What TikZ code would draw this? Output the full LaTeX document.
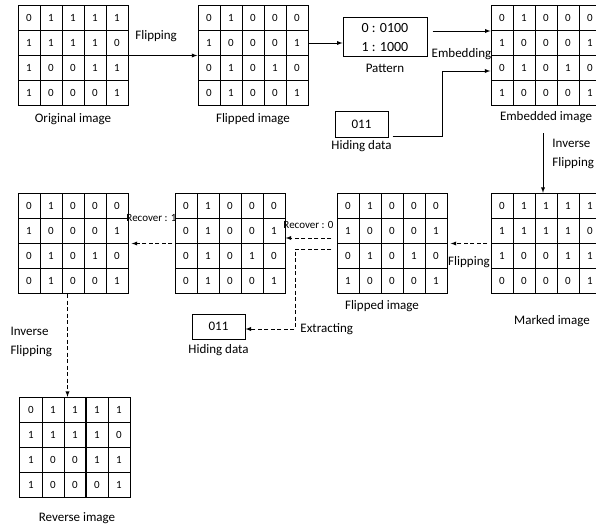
\documentclass[tikz,border=0pt]{standalone}
\usepackage{fontspec}
\setmainfont{Carlito}
\usetikzlibrary{matrix,positioning,calc}
\begin{document}
\begin{tikzpicture}[x=1pt,y=-1pt,
  grille/.style={matrix of nodes,inner sep=0pt,column sep=-1pt,row sep=-1pt,
    nodes={draw,line width=1pt,minimum width=22pt,minimum height=25pt,inner sep=0pt,text height=7pt,text depth=0pt,font=\fontsize{11}{11}\selectfont}},
  boite/.style={draw,line width=1pt,minimum width=53pt,minimum height=26pt,inner sep=0pt,font=\fontsize{13}{15}\selectfont},
  legende/.style={inner sep=1pt,font=\fontsize{13}{15}\selectfont},
  petite/.style={inner sep=1pt,font=\fontsize{11}{13}\selectfont},
  fleche/.style={-latex,line width=0.9pt},
  tirets/.style={fleche,dash pattern=on 4pt off 2.5pt}]
\useasboundingbox (0,0) rectangle (596,524);
% Mise en place : les images
\matrix (orig) at (73,55.5) [grille] {0&1&1&1&1\\1&1&1&1&0\\1&0&0&1&1\\1&0&0&0&1\\};
\matrix (retour) at (253,55.5) [grille] {0&1&0&0&0\\1&0&0&0&1\\0&1&0&1&0\\0&1&0&0&1\\};
\matrix (insere) at (546,55.5) [grille] {0&1&0&0&0\\1&0&0&0&1\\0&1&0&1&0\\1&0&0&0&1\\};
\matrix (marque) at (546,243.5) [grille] {0&1&1&1&1\\1&1&1&1&0\\1&0&0&1&1\\0&0&0&0&1\\};
\matrix (retourb) at (392,243.5) [grille] {0&1&0&0&0\\1&0&0&0&1\\0&1&0&1&0\\1&0&0&0&1\\};
\matrix (recup) at (230,243.5) [grille] {0&1&0&0&0\\0&1&0&0&1\\0&1&0&1&0\\0&1&0&0&1\\};
\matrix (gauche) at (73,243.5) [grille] {0&1&0&0&0\\1&0&0&0&1\\0&1&0&1&0\\0&1&0&0&1\\};
\matrix (inverse) at (75,447.5) [grille] {0&1&1&1&1\\1&1&1&1&0\\1&0&0&1&1\\1&0&0&0&1\\};
\node[boite,minimum width=84pt,minimum height=39pt,align=center,font=\fontsize{14}{19}\selectfont] (motif) at (385,37.5) {0 : 0100\\1 : 1000};
\node[boite] (cache) at (361.5,124) {011};
\node[boite,minimum height=25pt] (cacheb) at (218.5,326.5) {011};
% Legendes
\node[legende,below=6pt of orig] (lorig) {Original image};
\node[legende,below=6pt of retour] (lretour) {Flipped image};
\node[legende,below=4pt of insere] (linsere) {Embedded image};
\node[legende,below=5.5pt of motif] (lmotif) {Pattern};
\node[legende,below=1.5pt of cache] (lcache) {Hiding data};
\node[legende,below=20pt of marque,xshift=6pt] (lmarque) {Marked image};
\node[legende,below=5pt of retourb,xshift=-10pt] (lretourb) {Flipped image};
\node[legende,below=3.5pt of cacheb] (lcacheb) {Hiding data};
\node[legende,below=13pt of inverse,xshift=2pt] (linverse) {Reverse image};
% Insertion
\draw[fleche](orig.east)--(retour.west)node[legende,pos=0.4,above=12pt](lflip){Flipping};
\draw[fleche](retour-2-5.east)--(retour-2-5.east-|motif.west);
\coordinate (demb) at ($(motif.east)+(5,0)$);
\draw[fleche](demb|-insere-1-1.south west)--(insere-1-1.south west)node[legende,midway,below=16pt](lemb){Embedding};
\coordinate (hdep) at ($(cache.south east)+(4,-1)$);
\coordinate (coude) at (442,71);
\draw[fleche](hdep)-|(coude)--(coude-|insere.west);
\coordinate (dinv) at (543,133);
\draw[fleche](dinv)--(dinv|-marque.north)node[legende,pos=0.35,right=8pt,align=left,font=\fontsize{13}{19}\selectfont](linv){Inverse\\Flipping};
% Extraction
\draw[tirets,shorten <=3pt,shorten >=3pt](marque.west)--(retourb.east)node[legende,midway,below=12pt](lflipb){Flipping};
\draw[tirets]($(retourb.west)+(-5,-5.5)$)--($(recup.east)+(0,-5.5)$)node[petite,midway,above=8pt](lrec0){Recover : 0};
\coordinate (ext) at (295,329);
\draw[tirets]($(retourb.west)+(-5,5.5)$)-|(ext)--(ext-|cacheb.east)node[legende,at start,right=4pt](lext){Extracting};
\draw[tirets,shorten <=2pt,shorten >=3pt](recup.west)--(gauche.east)node[petite,midway,above=20pt](lrec1){Recover : 1};
\coordinate (ifl) at ($(gauche.south)+(-5.5,0)$);
\draw[tirets](ifl)--(ifl|-inverse.north)node[legende,pos=0.47,left=14pt,align=left,font=\fontsize{13}{19}\selectfont](linvb){Inverse\\Flipping};
\end{tikzpicture}
\end{document}
